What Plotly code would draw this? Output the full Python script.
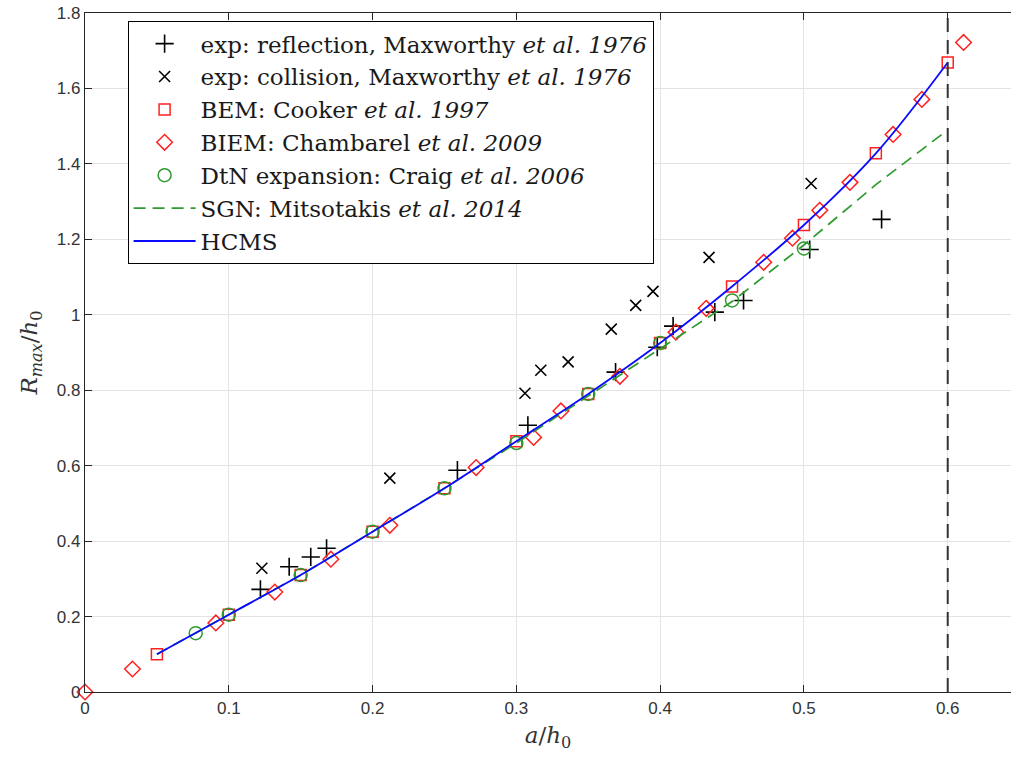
import plotly.graph_objects as go

# Experimental run-up data (Maxworthy et al. 1976)
refl_x = [0.122, 0.142, 0.157, 0.168, 0.259, 0.308, 0.369, 0.398, 0.409, 0.438, 0.458, 0.504, 0.554]
refl_y = [0.272, 0.332, 0.358, 0.381, 0.588, 0.707, 0.848, 0.914, 0.970, 1.007, 1.038, 1.173, 1.253]
coll_x = [0.123, 0.212, 0.306, 0.317, 0.336, 0.366, 0.383, 0.395, 0.434, 0.505]
coll_y = [0.328, 0.567, 0.792, 0.853, 0.875, 0.962, 1.025, 1.062, 1.152, 1.348]

# BEM (Cooker et al. 1997)
bem_x = [0.05, 0.10, 0.15, 0.20, 0.25, 0.30, 0.35, 0.40, 0.45, 0.50, 0.55, 0.60]
bem_y = [0.100, 0.205, 0.310, 0.425, 0.540, 0.665, 0.790, 0.925, 1.075, 1.238, 1.428, 1.669]

# BIEM (Chambarel et al. 2009)
biem_x = [0.0, 0.033, 0.091, 0.132, 0.171, 0.212, 0.272, 0.312, 0.331, 0.372, 0.411, 0.432,
          0.472, 0.492, 0.511, 0.532, 0.562, 0.582, 0.611]
biem_y = [0.0, 0.061, 0.183, 0.265, 0.352, 0.442, 0.595, 0.675, 0.745, 0.837, 0.954, 1.017,
          1.139, 1.203, 1.277, 1.351, 1.478, 1.571, 1.722]

# DtN expansion (Craig et al. 2006)
dtn_x = [0.077, 0.10, 0.15, 0.20, 0.25, 0.30, 0.35, 0.40, 0.45, 0.50]
dtn_y = [0.156, 0.205, 0.310, 0.425, 0.540, 0.660, 0.790, 0.925, 1.038, 1.176]

# SGN (Mitsotakis et al. 2014)
sgn_x = [0.05, 0.10, 0.15, 0.20, 0.25, 0.30, 0.35, 0.40, 0.45, 0.50, 0.55, 0.60]
sgn_y = [0.100, 0.205, 0.310, 0.425, 0.540, 0.660, 0.785, 0.910, 1.035, 1.185, 1.345, 1.490]

# HCMS
hcms_x = [0.05, 0.10, 0.15, 0.20, 0.25, 0.30, 0.35, 0.40, 0.45, 0.50, 0.55, 0.60]
hcms_y = [0.100, 0.205, 0.310, 0.425, 0.540, 0.665, 0.790, 0.925, 1.075, 1.238, 1.428, 1.669]

x_ticks = [0, 0.1, 0.2, 0.3, 0.4, 0.5, 0.6]
y_ticks = [0, 0.2, 0.4, 0.6, 0.8, 1.0, 1.2, 1.4, 1.6, 1.8]
y_ticklabels = ["0", "0.2", "0.4", "0.6", "0.8", "1", "1.2", "1.4", "1.6", "1.8"]

RED = "#ff2020"
GREEN = "#2f9a2f"
BLUE = "#0a0aff"
SERIF = "DejaVu Serif"

fig = go.Figure()

fig.add_trace(go.Scatter(
    x=refl_x, y=refl_y, mode="markers",
    name="exp: reflection, Maxworthy <i>et al. 1976</i>",
    marker=dict(symbol="cross-thin-open", size=13, line=dict(color="black", width=1.6), color="black")))
fig.add_trace(go.Scatter(
    x=coll_x, y=coll_y, mode="markers",
    name="exp: collision, Maxworthy <i>et al. 1976</i>",
    marker=dict(symbol="x-thin-open", size=11, line=dict(color="black", width=1.6), color="black")))
fig.add_trace(go.Scatter(
    x=bem_x, y=bem_y, mode="markers",
    name="BEM: Cooker <i>et al. 1997</i>",
    marker=dict(symbol="square-open", size=11, line=dict(color=RED, width=1.5), color=RED)))
fig.add_trace(go.Scatter(
    x=biem_x, y=biem_y, mode="markers", cliponaxis=False,
    name="BIEM: Chambarel <i>et al. 2009</i>",
    marker=dict(symbol="diamond-open", size=12, line=dict(color=RED, width=1.5), color=RED)))
fig.add_trace(go.Scatter(
    x=dtn_x, y=dtn_y, mode="markers",
    name="DtN expansion: Craig <i>et al. 2006</i>",
    marker=dict(symbol="circle-open", size=13, line=dict(color=GREEN, width=1.5), color=GREEN)))
fig.add_trace(go.Scatter(
    x=sgn_x, y=sgn_y, mode="lines",
    name="SGN: Mitsotakis <i>et al. 2014</i>",
    line=dict(color=GREEN, width=1.7, dash="12px,7px")))
fig.add_trace(go.Scatter(
    x=hcms_x, y=hcms_y, mode="lines", line_shape="spline",
    name="HCMS",
    line=dict(color=BLUE, width=1.8)))

# breaking limit marker
fig.add_shape(type="line", xref="x", yref="paper", x0=0.6, x1=0.6, y0=0, y1=1,
              line=dict(color="#333333", width=2, dash="14px,8px"))

fig.update_layout(
    width=1011, height=765,
    margin=dict(l=85, r=0, t=13, b=73),
    paper_bgcolor="white", plot_bgcolor="white",
    showlegend=True,
    legend=dict(
        x=0.046, y=0.988, xanchor="left", yanchor="top",
        bgcolor="white", bordercolor="black", borderwidth=1,
        font=dict(family=SERIF, size=23, color="#1a1a1a"),
        tracegroupgap=0, itemwidth=62,
    ),
    font=dict(family="Liberation Sans", size=17, color="#262626"),
)

fig.update_xaxes(
    range=[0, 0.644], tickvals=x_ticks, ticktext=[str(v) for v in x_ticks],
    showgrid=True, gridcolor="#e3e3e3", gridwidth=1,
    showline=True, linecolor="#262626", linewidth=1.2, mirror="ticks",
    ticks="inside", ticklen=7, tickcolor="#262626", zeroline=False,
    tickfont=dict(family="Liberation Sans", size=17, color="#333333"),
    title=dict(text="<i>a</i>/<i>h</i><sub>0</sub>", font=dict(family=SERIF, size=23, color="#333333"), standoff=10),
)
fig.update_yaxes(
    range=[0, 1.8], tickvals=y_ticks, ticktext=y_ticklabels,
    showgrid=True, gridcolor="#e3e3e3", gridwidth=1,
    showline=True, linecolor="#262626", linewidth=1.2, mirror=False,
    ticks="inside", ticklen=7, tickcolor="#262626", zeroline=False,
    tickfont=dict(family="Liberation Sans", size=17, color="#333333"),
    title=dict(text="<i>R<sub>max</sub></i>/<i>h</i><sub>0</sub>", font=dict(family=SERIF, size=23, color="#333333"), standoff=12),
)

fig.write_html("out.html")
